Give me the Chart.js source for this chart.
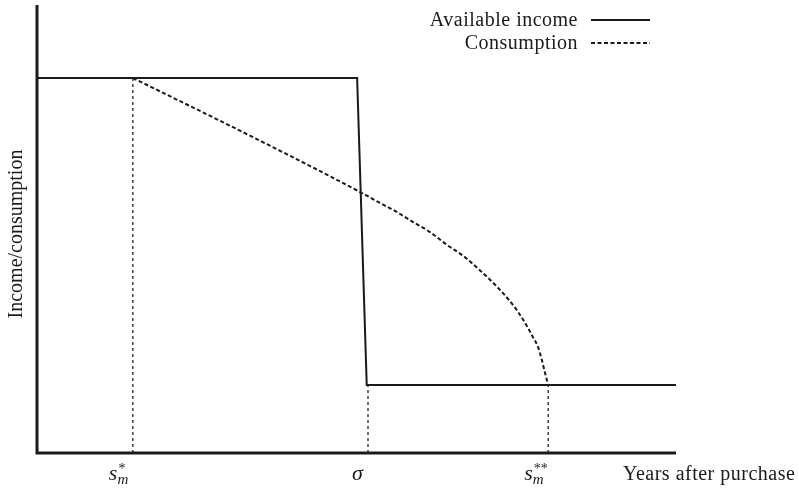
<!DOCTYPE html>
<html>
<head>
<meta charset="utf-8">
<script src="https://cdn.jsdelivr.net/npm/chart.js@4.4.0/dist/chart.umd.min.js"></script>
<style>
  html, body { margin: 0; padding: 0; background: #fff; }
  #wrap { width: 799px; height: 490px; }
</style>
</head>
<body>
<div id="wrap"><canvas id="myChart" width="799" height="490"></canvas></div>
<script>
// Available income: high until sigma, then drops
const incomeX = [0, 50.1, 51.6, 100];
const incomeY = [83.7, 83.7, 15.2, 15.2];

// Consumption path (before s*_m it equals income, so it lies under the solid line)
const consX = [15.0, 33.8, 50.5, 53.7, 56.3, 58.8, 61.5, 64.2, 66.7, 69.3, 72.0, 74.5, 76.1, 77.6, 78.4, 79.0, 79.5, 80.0];
const consY = [83.7, 70.5, 58.3, 55.8, 53.8, 51.6, 49.3, 46.4, 44.0, 40.8, 37.1, 33.0, 29.7, 25.9, 23.7, 20.8, 17.9, 15.2];

// Marked points on the time axis
const tickX = [15.0, 51.8, 80.0];
const tickTop = [83.7, 15.2, 15.2];
const tickLabels = [['s', '*', 'm'], ['σ', '', ''], ['s', '**', 'm']];

const FONT = '"Liberation Serif", "DejaVu Serif", serif';

function pts(xs, ys) {
    return xs.map((x, i) => ({ x: x, y: ys[i] }));
}

const guideSets = tickX.map((x, i) => ({
    label: 'guide' + i,
    data: [{ x: x, y: 0 }, { x: x, y: tickTop[i] }],
    borderColor: '#111',
    borderWidth: 1.2,
    borderDash: [3, 3],
    pointRadius: 0,
    fill: false
}));

// Axis lines, tick labels, axis titles and legend
const decorations = {
    id: 'decorations',
    afterDatasetsDraw(chart) {
        const c = chart.ctx;
        const a = chart.chartArea;
        const xs = chart.scales.x;
        c.save();
        c.strokeStyle = '#1a1a1a';
        c.lineWidth = 3;
        c.beginPath();
        c.moveTo(a.left, a.top);
        c.lineTo(a.left, a.bottom);
        c.lineTo(a.right, a.bottom);
        c.stroke();

        c.fillStyle = '#1a1a1a';
        c.textBaseline = 'alphabetic';
        c.textAlign = 'left';
        tickLabels.forEach((lab, i) => {
            const px = xs.getPixelForValue(tickX[i]);
            c.font = 'italic 22px ' + FONT;
            const w = c.measureText(lab[0]).width;
            const x0 = lab[1] ? px - 24 : px - 16;
            c.fillText(lab[0], x0, 480);
            if (lab[1]) {
                c.font = '14px ' + FONT;
                c.fillText(lab[1], x0 + w + 1, 473);
                c.font = 'italic 15px ' + FONT;
                c.fillText(lab[2], x0 + w, 484);
            }
        });

        c.font = '20px ' + FONT;
        if ('letterSpacing' in c) c.letterSpacing = '0.5px';
        c.fillText('Years after purchase', 623, 480);

        c.save();
        c.translate(22, 234);
        c.rotate(-Math.PI / 2);
        c.textAlign = 'center';
        if ('letterSpacing' in c) c.letterSpacing = '0px';
        c.fillText('Income/consumption', 0, 0);
        c.restore();

        c.textAlign = 'right';
        c.fillText('Available income', 578, 26);
        c.fillText('Consumption', 578, 49);
        c.lineWidth = 2;
        c.beginPath();
        c.moveTo(591, 20);
        c.lineTo(650, 20);
        c.stroke();
        c.setLineDash([4, 2.5]);
        c.beginPath();
        c.moveTo(591, 43);
        c.lineTo(650, 43);
        c.stroke();
        c.restore();
    }
};

const ctx = document.getElementById('myChart').getContext('2d');
const myChart = new Chart(ctx, {
    type: 'line',
    data: {
        datasets: [{
            label: 'Available income',
            data: pts(incomeX, incomeY),
            borderColor: '#1a1a1a',
            borderWidth: 2,
            pointRadius: 0,
            tension: 0,
            fill: false
        }, {
            label: 'Consumption',
            data: pts(consX, consY),
            borderColor: '#1a1a1a',
            borderWidth: 2,
            borderDash: [4, 2.5],
            pointRadius: 0,
            cubicInterpolationMode: 'monotone',
            fill: false
        }].concat(guideSets)
    },
    options: {
        responsive: false,
        animation: false,
        layout: { padding: { left: 37, right: 123, top: 5, bottom: 37 } },
        plugins: { legend: { display: false }, tooltip: { enabled: false } },
        scales: {
            x: { type: 'linear', min: 0, max: 100, display: false },
            y: { type: 'linear', min: 0, max: 100, display: false }
        }
    },
    plugins: [decorations]
});
</script>
</body>
</html>
